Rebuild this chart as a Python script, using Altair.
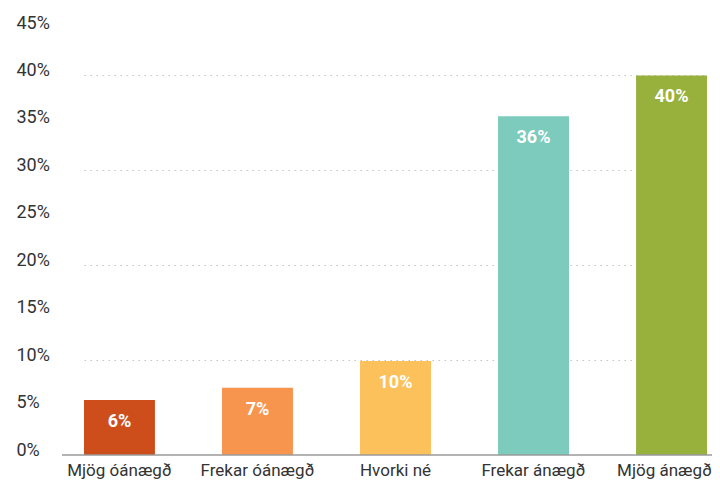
import altair as alt
import pandas as pd

categories = ["Mjög óánægð", "Frekar óánægð", "Hvorki né", "Frekar ánægð", "Mjög ánægð"]
values = [0.058, 0.071, 0.099, 0.357, 0.400]
colors = ["#CE4E1B", "#F7954F", "#FDC15B", "#7CCBBD", "#97B13C"]
y_ticks = [0, 0.05, 0.10, 0.15, 0.20, 0.25, 0.30, 0.35, 0.40, 0.45]
baseline_value = [0]

df = pd.DataFrame({"cat": categories, "value": values, "color": colors})

FONT = "Roboto"

x_enc = alt.X(
    "cat:N",
    sort=categories,
    scale=alt.Scale(range=[22, 645], paddingInner=0.486, paddingOuter=0),
    axis=alt.Axis(
        title=None, labelAngle=0, domain=False, ticks=False, tickSize=0,
        labelPadding=7, labelFontSize=17, labelColor="#333333", labelFont=FONT,
        labelBaseline="top", labelOverlap=False, labelBound=False,
        labelOffset={"condition": {"test": "datum.value == 'Mjög ánægð'", "value": -7}, "value": 0},
    ),
)

y_enc = alt.Y(
    "value:Q",
    scale=alt.Scale(domain=[0, 0.45], nice=False, zero=True),
    axis=alt.Axis(
        title=None, values=y_ticks, format=".0%", domain=False, ticks=False, tickSize=0,
        labelAlign="left", labelPadding=46, labelBaseline="alphabetic",
        labelFontSize=18, labelColor="#333333", labelFont=FONT,
        grid=True, gridColor="#c4c4c4", gridDash=[1.5, 4.5], gridWidth=1.2,
        gridOpacity={"condition": {"test": "round(datum.value*100) % 10 == 0 && datum.value > 0", "value": 1}, "value": 0},
    ),
)

bars = alt.Chart(df).mark_bar().encode(
    x=x_enc,
    y=y_enc,
    color=alt.Color("color:N", scale=None),
)

labels = alt.Chart(df).mark_text(
    baseline="middle", dy=22, color="white", fontWeight="bold", fontSize=18, font=FONT,
).encode(
    x=alt.X("cat:N", sort=categories),
    y=alt.Y("value:Q"),
    text=alt.Text("value:Q", format=".0%"),
)

axis_line = alt.Chart(pd.DataFrame({"v": baseline_value})).mark_rule(
    color="#9a9a9a", strokeWidth=1.6
).encode(y="v:Q")

chart = alt.layer(bars, labels, axis_line).properties(
    width=650, height=427,
    autosize=alt.AutoSizeParams(type="none"),
    padding={"left": 54, "top": 20, "right": 0, "bottom": 25},
).configure_view(stroke=None)

chart.save("out.html", embed_options={"renderer": "svg", "actions": False})
